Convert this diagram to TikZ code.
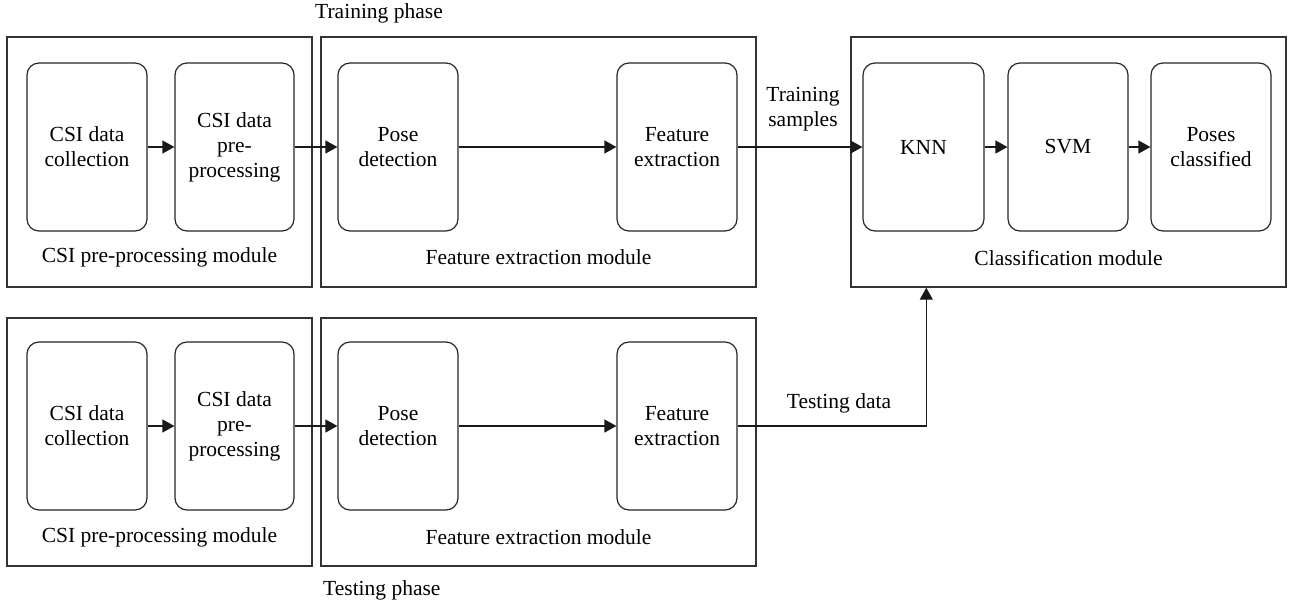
\documentclass[tikz,border=0pt]{standalone}
\usepackage{fontspec}
\setmainfont{Liberation Serif}
\usetikzlibrary{arrows.meta}
\newcommand\myfs{\fontsize{21.5}{25}\selectfont}
\begin{document}
\begin{tikzpicture}[x=1pt,y=-1pt,
  module/.style={draw=black!80, line width=1.4pt, inner sep=0pt},
  box/.style={draw=black!85, line width=1.2pt, rounded corners=12pt, minimum height=168pt, align=center, inner sep=0pt, font=\myfs},
  lbl/.style={font=\myfs, align=center, inner sep=0pt},
  arr/.style={-{Triangle[length=12pt,width=13pt]}, line width=1.2pt, draw=black!90}
]
\useasboundingbox (0,0) rectangle (1292,606);

% ---- training row modules
\node[module, minimum width=305pt, minimum height=250pt] (m1) at (159.5,162) {};
\node[module, minimum width=435pt, minimum height=250pt] (m2) at (538.5,162) {};
\node[module, minimum width=435pt, minimum height=250pt] (m3) at (1068.5,162) {};

% ---- testing row modules
\node[module, minimum width=305pt, minimum height=248pt] (b1) at (159.5,442) {};
\node[module, minimum width=435pt, minimum height=248pt] (b2) at (538.5,442) {};

% ---- inner boxes, training
\node[box, minimum width=120pt] (c1) at (87,147) {CSI data\\collection};
\node[box, minimum width=119pt] (c2) at (234.5,147) {CSI data\\pre-\\processing};
\node[box, minimum width=120pt] (pd) at (398,147) {Pose\\detection};
\node[box, minimum width=120pt] (fe) at (677,147) {Feature\\extraction};
\node[box, minimum width=121pt] (knn) at (923.5,147) {KNN};
\node[box, minimum width=120pt] (svm) at (1068,147) {SVM};
\node[box, minimum width=120pt] (pc) at (1211,147) {Poses\\classified};

% ---- inner boxes, testing
\node[box, minimum width=120pt] (tc1) at (87,426) {CSI data\\collection};
\node[box, minimum width=119pt] (tc2) at (234.5,426) {CSI data\\pre-\\processing};
\node[box, minimum width=120pt] (tpd) at (398,426) {Pose\\detection};
\node[box, minimum width=120pt] (tfe) at (677,426) {Feature\\extraction};

% ---- module labels
\node[lbl] (l1) at (159.5,257) {CSI pre-processing module};
\node[lbl] (l2) at (538.5,257) {Feature extraction module};
\node[lbl] (l3) at (1068.5,258) {Classification module};
\node[lbl] (tl1) at (159.5,537) {CSI pre-processing module};
\node[lbl] (tl2) at (538.5,537) {Feature extraction module};

% ---- phase labels
\node[lbl, anchor=west] (trp) at (315,13) {Training phase};
\node[lbl, anchor=west] (tep) at (323,590) {Testing phase};

% ---- connector labels
\node[lbl] (ts) at (803,109) {Training\\samples};
\node[lbl] (td) at (839,403) {Testing data};

% ---- connectors
\draw[arr] (c1) -- (c2);
\draw[arr] (c2) -- (pd);
\draw[arr] (pd) -- (fe);
\draw[arr] (fe) -- (knn);
\draw[arr] (knn) -- (svm);
\draw[arr] (svm) -- (pc);

\draw[arr] (tc1) -- (tc2);
\draw[arr] (tc2) -- (tpd);
\draw[arr] (tpd) -- (tfe);
\coordinate (tin) at ([xshift=76pt]m3.south west);
\draw[arr] (tfe.east) -| (tin);
\end{tikzpicture}
\end{document}
